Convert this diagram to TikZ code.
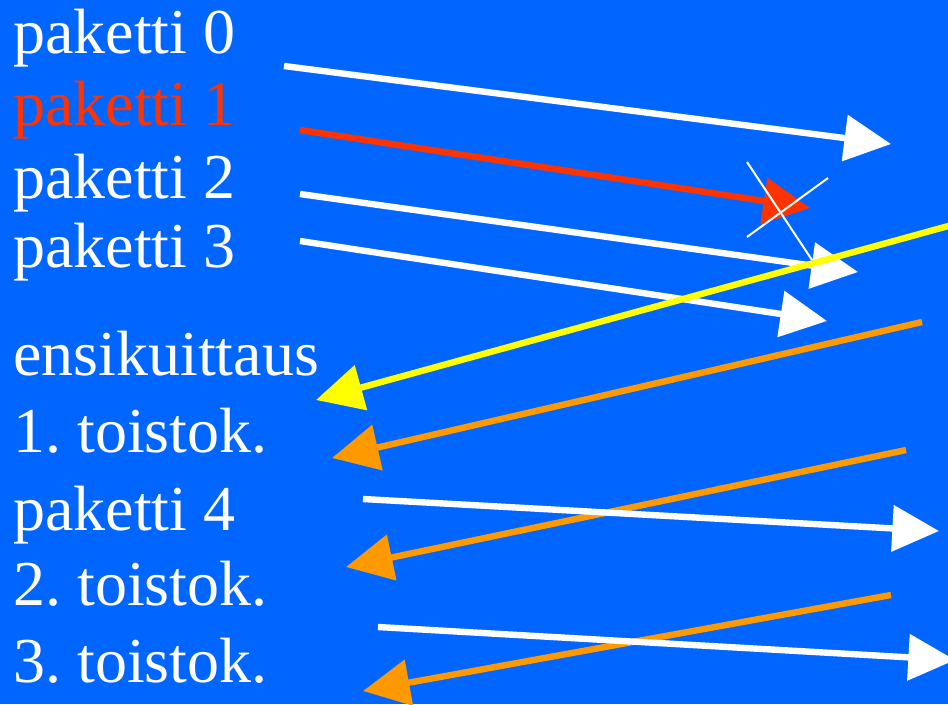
\documentclass[tikz,border=0pt]{standalone}
\usepackage{fontspec}
\setmainfont{Liberation Serif}
\usetikzlibrary{arrows.meta}
\frenchspacing

\definecolor{slideblue}{RGB}{0,102,255}
\definecolor{lostred}{RGB}{255,51,0}
\definecolor{ackorange}{RGB}{255,153,0}
\definecolor{ackyellow}{RGB}{255,255,0}

\tikzset{
  lbl/.style={anchor=base west, inner sep=0pt, text=white, font=\fontsize{48}{57}\selectfont},
  pkt/.style={line width=4.8pt, -{Triangle[length=35pt,width=34pt]}},
}

\begin{document}
\begin{tikzpicture}[x=0.75pt,y=-0.75pt]
\useasboundingbox (0,0) rectangle (948,704);
\fill[slideblue] (0,0) rectangle (948,704);
\clip (0,0) rectangle (948,704);

% labels
\node[lbl] (p0) at (13,53) {paketti 0};
\node[lbl,text=lostred] (p1) at (13,125) {paketti 1};
\node[lbl] (p2) at (13,198) {paketti 2};
\node[lbl] (p3) at (13,267) {paketti 3};
\node[lbl] (ek) at (13,375) {ensikuittaus};
\node[lbl] (t1) at (13,452) {1. toistok.};
\node[lbl] (p4) at (13,530) {paketti 4};
\node[lbl] (t2) at (13,605) {2. toistok.};
\node[lbl] (t3) at (13,682) {3. toistok.};

% end points
\coordinate (s0) at (284,66);  \coordinate (e0) at (891,144);
\coordinate (s1) at (300,130); \coordinate (e1) at (810,208);
\coordinate (s2) at (300,194); \coordinate (e2) at (858,272);
\coordinate (s3) at (300,241); \coordinate (e3) at (827,321);
\coordinate (ya) at (952,225); \coordinate (yb) at (316,400);
\coordinate (o1a) at (922,322); \coordinate (o1b) at (332,458);
\coordinate (s4) at (363,499); \coordinate (e4) at (939,531);
\coordinate (o2a) at (906,450); \coordinate (o2b) at (346,567);
\coordinate (s5) at (378,627); \coordinate (e5) at (955,660);
\coordinate (o3a) at (891,595); \coordinate (o3b) at (363,691);
\coordinate (xa) at (747,162); \coordinate (xb) at (812,260);
\coordinate (xc) at (747,237); \coordinate (xd) at (828,178);

% packets
\draw[pkt,white] (s0) -- (e0);
\draw[pkt,lostred] (s1) -- (e1);
\draw[pkt,white] (s2) -- (e2);
\draw[pkt,white] (s3) -- (e3);

% lost
\draw[white,line width=1.5pt] (xa) -- (xb);
\draw[white,line width=1.5pt] (xc) -- (xd);

% acks
\draw[pkt,ackyellow] (ya) -- (yb);
\draw[pkt,ackorange] (o1a) -- (o1b);
\draw[pkt,ackorange] (o2a) -- (o2b);
\draw[pkt,ackorange] (o3a) -- (o3b);

\draw[pkt,white] (s4) -- (e4);
\draw[pkt,white] (s5) -- (e5);
\end{tikzpicture}
\end{document}
